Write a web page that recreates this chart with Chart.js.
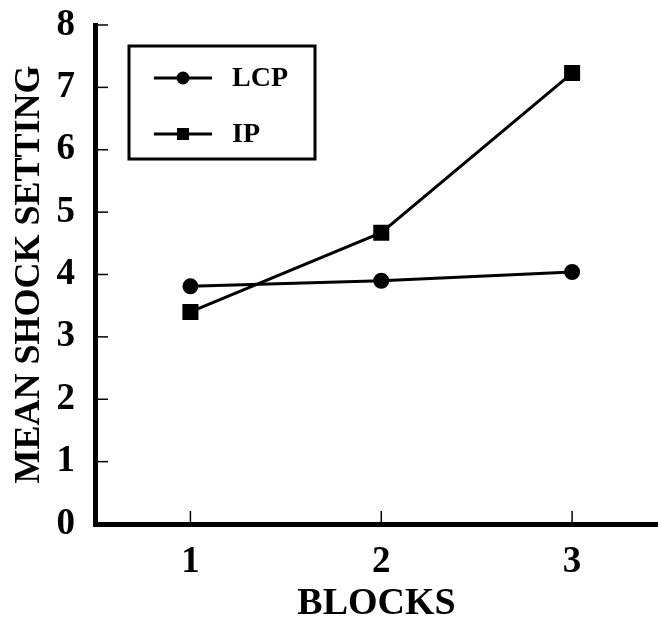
<!DOCTYPE html>
<html>
<head>
<meta charset="utf-8">
<script src="https://cdn.jsdelivr.net/npm/chart.js@4"></script>
<style>
  html, body { margin: 0; padding: 0; background: #fff; overflow: hidden; }
  canvas { display: block; }
</style>
</head>
<body>
<canvas id="chart" width="658" height="620"></canvas>
<script>
// data
const blocks = [1, 2, 3];
const lcpValues = [3.81, 3.9, 4.04];
const ipValues = [3.4, 4.67, 7.23];
const yTicks = [0, 1, 2, 3, 4, 5, 6, 7, 8];

const serif = '"Liberation Serif", "Times New Roman", serif';

// inward tick marks on both axes
const innerTicks = {
  id: 'innerTicks',
  afterDraw(chart) {
    const { ctx, chartArea, scales } = chart;
    ctx.save();
    ctx.strokeStyle = '#000';
    ctx.lineWidth = 1.5;
    yTicks.forEach(v => {
      const y = scales.y.getPixelForValue(v);
      ctx.beginPath();
      ctx.moveTo(chartArea.left, y);
      ctx.lineTo(chartArea.left + 13, y);
      ctx.stroke();
    });
    blocks.forEach(v => {
      const x = scales.x.getPixelForValue(v);
      ctx.beginPath();
      ctx.moveTo(x, chartArea.bottom);
      ctx.lineTo(x, chartArea.bottom - 13);
      ctx.stroke();
    });
    ctx.restore();
  }
};

// boxed legend like the original
const boxLegend = {
  id: 'boxLegend',
  afterDraw(chart) {
    const { ctx, chartArea } = chart;
    const left = chartArea.left + 34, top = chartArea.top + 21;
    const w = 186, h = 113;
    ctx.save();
    ctx.strokeStyle = '#000';
    ctx.lineWidth = 3;
    ctx.strokeRect(left, top, w, h);
    chart.data.datasets.forEach((ds, i) => {
      const y = top + 32 + i * 56;
      ctx.lineWidth = 3;
      ctx.beginPath();
      ctx.moveTo(left + 25, y);
      ctx.lineTo(left + 83, y);
      ctx.stroke();
      ctx.fillStyle = '#000';
      if (ds.pointStyle === 'rect') {
        ctx.fillRect(left + 54 - 6, y - 6, 12, 12);
      } else {
        ctx.beginPath();
        ctx.arc(left + 54, y, 6.5, 0, Math.PI * 2);
        ctx.fill();
      }
      ctx.font = 'bold 28px ' + serif;
      ctx.textBaseline = 'middle';
      ctx.fillText(ds.label, left + 103, y + 1);
    });
    ctx.restore();
  }
};

new Chart(document.getElementById('chart'), {
  type: 'line',
  data: {
    datasets: [
      {
        label: 'LCP',
        data: blocks.map((b, i) => ({ x: b, y: lcpValues[i] })),
        borderColor: '#000',
        backgroundColor: '#000',
        borderWidth: 3,
        pointStyle: 'circle',
        pointRadius: 6.5,
        pointHoverRadius: 6.5
      },
      {
        label: 'IP',
        data: blocks.map((b, i) => ({ x: b, y: ipValues[i] })),
        borderColor: '#000',
        backgroundColor: '#000',
        borderWidth: 3,
        pointStyle: 'rect',
        pointRadius: 9.2,
        pointHoverRadius: 9.2
      }
    ]
  },
  options: {
    responsive: false,
    animation: false,
    layout: { autoPadding: false, padding: { top: 25, right: 0, left: 0, bottom: 0 } },
    plugins: {
      legend: { display: false },
      tooltip: { enabled: false }
    },
    scales: {
      x: {
        type: 'linear',
        min: 0.5,
        max: 3.45,
        afterBuildTicks: axis => { axis.ticks = blocks.map(v => ({ value: v })); },
        afterFit: scale => {
          scale.height = 96;
          scale.paddingLeft = 0;
          scale.paddingRight = 0;
        },
        grid: { display: false },
        border: { display: true, color: '#000', width: 5 },
        ticks: {
          color: '#000',
          padding: 8,
          font: { family: serif, size: 37, weight: 'bold' }
        },
        title: {
          display: true,
          text: 'BLOCKS',
          color: '#000',
          padding: { top: 4, bottom: -7 },
          font: { family: serif, size: 38, weight: 'bold' }
        }
      },
      y: {
        min: 0,
        max: 8,
        afterBuildTicks: axis => { axis.ticks = yTicks.map(v => ({ value: v })); },
        afterFit: scale => {
          scale.width = 95;
          scale.paddingTop = 0;
          scale.paddingBottom = 0;
        },
        grid: { display: false },
        border: { display: true, color: '#000', width: 5 },
        ticks: {
          color: '#000',
          padding: 12,
          font: { family: serif, size: 37, weight: 'bold' }
        },
        title: {
          display: true,
          text: 'MEAN SHOCK SETTING',
          color: '#000',
          padding: { top: 8, bottom: 0 },
          font: { family: serif, size: 36, weight: 'bold' }
        }
      }
    }
  },
  plugins: [innerTicks, boxLegend]
});
</script>
</body>
</html>
